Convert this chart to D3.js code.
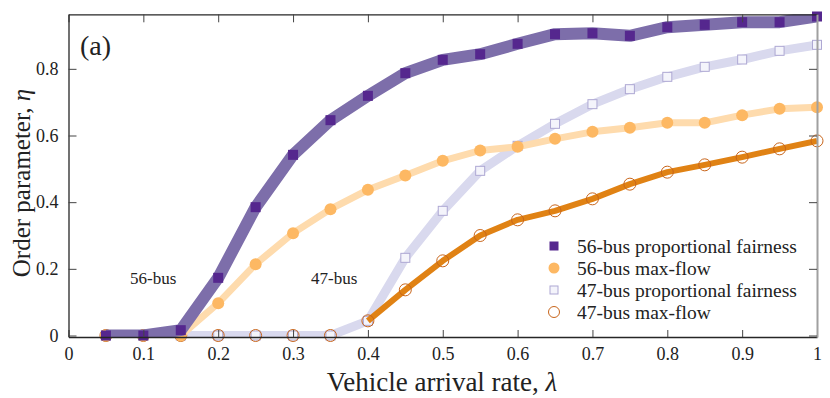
<!DOCTYPE html>
<html><head><meta charset="utf-8">
<script src="https://cdn.jsdelivr.net/npm/d3@7"></script>
<style>body{margin:0;background:#fff}svg{display:block}svg text{font-family:'Liberation Serif','Times New Roman',Tinos,'DejaVu Serif',serif !important;fill:#222}</style>
</head><body>
<svg id="c" width="830" height="398" font-family="Liberation Serif, serif"></svg>
<script>
const lambda = [0.05,0.1,0.15,0.2,0.25,0.3,0.35,0.4,0.45,0.5,0.55,0.6,0.65,0.7,0.75,0.8,0.85,0.9,0.95,1.0];
const pf56 = [0.0,0.0,0.016,0.173,0.385,0.542,0.646,0.719,0.787,0.827,0.844,0.875,0.904,0.907,0.899,0.925,0.932,0.94,0.94,0.957];
const mf56 = [0.0,0.0,0.0,0.097,0.214,0.307,0.379,0.437,0.48,0.524,0.555,0.566,0.59,0.611,0.623,0.638,0.638,0.661,0.68,0.685];
const pf47 = [0.0,0.0,0.0,0.0,0.0,0.0,0.0,0.044,0.233,0.374,0.494,0.569,0.635,0.694,0.739,0.776,0.806,0.828,0.854,0.872];
const mf47 = [0.0,0.0,0.0,0.0,0.0,0.0,0.0,0.044,0.137,0.224,0.3,0.347,0.374,0.41,0.454,0.49,0.512,0.535,0.56,0.584];
const xTicks = [0,0.1,0.2,0.3,0.4,0.5,0.6,0.7,0.8,0.9,1];
const yTicks = [0,0.2,0.4,0.6,0.8];
const legendLabels = ["56-bus proportional fairness","56-bus max-flow","47-bus proportional fairness","47-bus max-flow"];

const svg = d3.select("#c");
const L = 68.5, R = 817, T = 14.3, B = 337;
const x = d3.scaleLinear().domain([0,1]).range([L,R]);
const y = d3.scaleLinear().domain([-0.0045,0.9636]).range([B,T]);

svg.append("defs").append("clipPath").attr("id","plot")
  .append("rect").attr("x",L).attr("y",T).attr("width",R-L).attr("height",B-T);

const S = {
  pf47: {vals: pf47, line:"#d9d9ee", lw:9, marker:"square", size:9, fill:"#f4f4fb", stroke:"#aea8d3", sw:1, from:0},
  mf47: {vals: mf47, line:"#e08214", lw:6, marker:"circle", size:12, fill:"none", stroke:"#c8651b", sw:1, from:0.4},
  mf56: {vals: mf56, line:"#fedbad", lw:7, marker:"circle", size:12, fill:"#fdb863", stroke:"none", sw:0, from:0},
  pf56: {vals: pf56, line:"#7d6eaa", lw:12, marker:"square", size:10, fill:"#55278e", stroke:"none", sw:0, from:0}
};
const drawOrder = ["pf47","mf47","mf56","pf56"];
const legendOrder = ["pf56","mf56","pf47","mf47"];

drawOrder.forEach(k => {
  const s = S[k];
  const pts = lambda.map((l,i)=>({x:l,y:s.vals[i]}));
  svg.append("path").datum(pts).attr("clip-path","url(#plot)")
    .attr("d", d3.line().defined(d=>d.x>=s.from-1e-9).x(d=>x(d.x)).y(d=>y(d.y)))
    .attr("fill","none").attr("stroke",s.line).attr("stroke-width",s.lw).attr("stroke-linejoin","round");
  const g = svg.append("g");
  pts.forEach(d=>{
    if (s.marker==="square") {
      g.append("rect").attr("x",x(d.x)-s.size/2).attr("y",y(d.y)-s.size/2).attr("width",s.size).attr("height",s.size)
        .attr("fill",s.fill).attr("stroke",s.stroke).attr("stroke-width",s.sw);
    } else {
      g.append("circle").attr("cx",x(d.x)).attr("cy",y(d.y)).attr("r",s.size/2)
        .attr("fill",s.fill).attr("stroke",s.stroke).attr("stroke-width",s.sw);
    }
  });
});

// axes
const fmt = d=>d===0?"0":d===1?"1":d3.format(".1f")(d);
const axB = svg.append("g").attr("transform",`translate(0,${B})`)
  .call(d3.axisBottom(x).tickValues(xTicks).tickSizeInner(-7).tickSizeOuter(0).tickPadding(10).tickFormat(fmt));
const axT = svg.append("g").attr("transform",`translate(0,${T})`)
  .call(d3.axisTop(x).tickValues(xTicks).tickSizeInner(-8).tickSizeOuter(0).tickFormat(""));
const axL = svg.append("g").attr("transform",`translate(${L},0)`)
  .call(d3.axisLeft(y).tickValues(yTicks).tickSizeInner(-8).tickSizeOuter(0).tickPadding(10).tickFormat(fmt));
const axR = svg.append("g").attr("transform",`translate(${R},0)`)
  .call(d3.axisRight(y).tickValues(yTicks).tickSizeInner(-8).tickSizeOuter(0).tickFormat(""));
[axB,axT,axL,axR].forEach(a=>{
  a.attr("font-family",null);
  a.selectAll("text").style("font-size","18px").attr("fill","#222");
  a.selectAll(".tick line").attr("stroke","#444").attr("stroke-width",1);
  a.select(".domain").attr("stroke","#262626").attr("stroke-width",1.3);
});
axR.select(".domain").attr("stroke","#a0a0a0").attr("stroke-width",2);
axB.selectAll("text").attr("dy","0.71em");

// titles
const xt = svg.append("text").attr("x",442).attr("y",391).attr("text-anchor","middle").style("font-size","27px").text("Vehicle arrival rate, ");
xt.append("tspan").style("font-style","italic").text("λ");
const yt = svg.append("text").attr("transform","translate(30,183) rotate(-90)").attr("text-anchor","middle").style("font-size","25px").text("Order parameter, ");
yt.append("tspan").style("font-style","italic").text("η");

svg.append("text").attr("x",80).attr("y",55).style("font-size","28px").text("(a)");
svg.append("text").attr("x",130).attr("y",284).style("font-size","17px").text("56-bus");
svg.append("text").attr("x",311).attr("y",284).style("font-size","17px").text("47-bus");

// legend
const legY = [246,268,290,312];
const lg = svg.append("g");
legendOrder.forEach((k,i)=>{
  const s = S[k];
  const cy = legY[i], cx = 554;
  if (s.marker==="square") {
    const sz = s.size-1;
    lg.append("rect").attr("x",cx-sz/2).attr("y",cy-sz/2).attr("width",sz).attr("height",sz)
      .attr("fill",s.fill).attr("stroke",s.stroke).attr("stroke-width",s.sw);
  } else {
    lg.append("circle").attr("cx",cx).attr("cy",cy).attr("r",s.size/2-0.5)
      .attr("fill",s.fill).attr("stroke",s.stroke).attr("stroke-width",s.sw);
  }
  lg.append("text").attr("x",577).attr("y",cy+6.5).style("font-size","19.5px").text(legendLabels[i]);
});
</script>
</body></html>
